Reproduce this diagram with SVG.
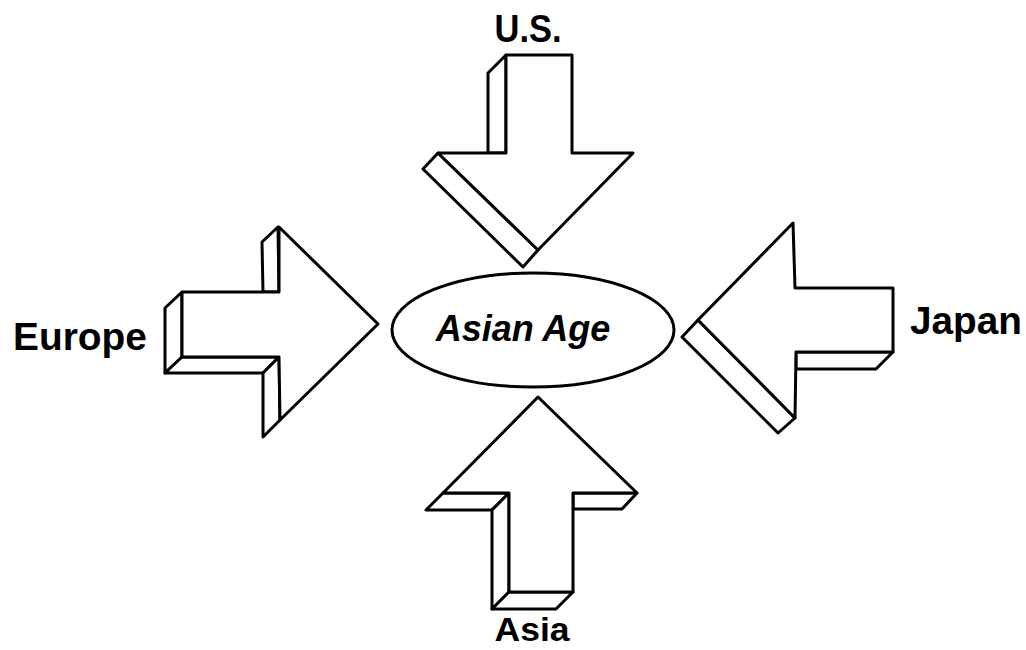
<svg xmlns="http://www.w3.org/2000/svg" width="1026" height="650" viewBox="0 0 1026 650">
<style>
.f{fill:#fff;stroke:#000;stroke-width:3;stroke-linejoin:round}
.t{font-family:"Liberation Sans",Arial,sans-serif;font-weight:bold;fill:#000}
</style>
<rect width="1026" height="650" fill="#fff"/>
<g id="us">
<polygon class="f" points="506,55 488,73 488,153 506,153"/>
<polygon class="f" points="438,153 423,169 523,267 538,250"/>
<polygon class="f" points="506,55 572,55 572,153 633,153 538,250 438,153 506,153"/>
<text class="t" x="528" y="42" font-size="39" text-anchor="middle" textLength="67" lengthAdjust="spacingAndGlyphs">U.S.</text>
</g>
<g id="europe">
<polygon class="f" points="262,242 278,227 279,292 263,292"/>
<polygon class="f" points="182,292 165,308 165,373 182,357"/>
<polygon class="f" points="182,357 165,373 263,373 279,357"/>
<polygon class="f" points="279,357 263,373 263,437 280,420"/>
<polygon class="f" points="182,292 279,292 279,227 378,324 280,420 279,357 182,357"/>
<text class="t" x="80" y="350" font-size="39" text-anchor="middle" textLength="134" lengthAdjust="spacingAndGlyphs">Europe</text>
</g>
<g id="japan">
<polygon class="f" points="698,320 682,337 778,433 795,418"/>
<polygon class="f" points="796,352 893,352 876,369 796,369"/>
<polygon class="f" points="698,320 793,223 795,288 893,288 893,352 796,352 795,418"/>
<text class="t" x="966" y="334" font-size="39" text-anchor="middle" textLength="112" lengthAdjust="spacingAndGlyphs">Japan</text>
</g>
<g id="asia">
<polygon class="f" points="443,493 426,510 492,510 509,493"/>
<polygon class="f" points="573,493 637,493 622,509 573,509"/>
<polygon class="f" points="509,493 492,510 492,609 509,592"/>
<polygon class="f" points="509,592 492,609 556,609 573,592"/>
<polygon class="f" points="538,397 637,493 573,493 573,592 509,592 509,493 443,493"/>
<text class="t" x="532" y="641" font-size="34" text-anchor="middle" textLength="75" lengthAdjust="spacingAndGlyphs">Asia</text>
</g>
<g id="center">
<ellipse class="f" cx="533" cy="330" rx="141" ry="57"/>
<text class="t" x="523" y="341" font-size="36" font-style="italic" text-anchor="middle">Asian Age</text>
</g>
<g id="connectors"/>
</svg>
